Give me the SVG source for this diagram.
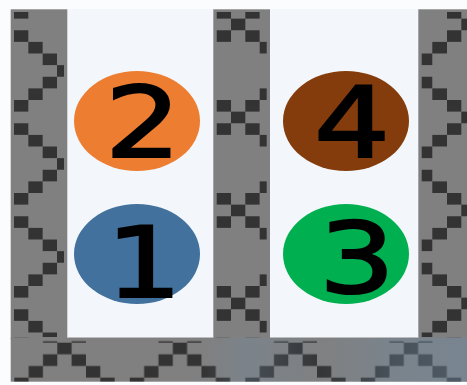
<svg xmlns="http://www.w3.org/2000/svg" width="467" height="385" viewBox="0 0 467 385">
  <style>
    .wall { fill: #808080; }
    .dk { fill: #333333; }
    .num { font-family: "DejaVu Sans", Verdana, sans-serif; font-size: 98px; fill: #000000; stroke: #000000; stroke-width: 2.2px; text-anchor: middle; }
  </style>
  <defs>
    <pattern id="wallPat" patternUnits="userSpaceOnUse" x="0" y="7" width="467" height="93">
      <rect class="dk" x="14" y="0" width="14.33" height="11.625"/>
      <rect class="dk" x="14" y="23.25" width="14.33" height="11.625"/>
      <rect class="dk" x="28.33" y="34.875" width="14.33" height="11.625"/>
      <rect class="dk" x="42.67" y="46.5" width="14.33" height="11.625"/>
      <rect class="dk" x="57" y="58.125" width="7" height="11.625"/>
      <rect class="dk" x="42.67" y="69.75" width="14.33" height="11.625"/>
      <rect class="dk" x="28.33" y="81.375" width="14.33" height="11.625"/>
      <rect class="dk" x="216.7" y="0" width="14.33" height="11.625"/>
      <rect class="dk" x="245.3" y="0" width="14.33" height="11.625"/>
      <rect class="dk" x="231" y="11.625" width="14.33" height="11.625"/>
      <rect class="dk" x="216.7" y="23.25" width="14.33" height="11.625"/>
      <rect class="dk" x="245.3" y="23.25" width="14.33" height="11.625"/>
      <rect class="dk" x="259.7" y="34.875" width="7" height="11.625"/>
      <rect class="dk" x="259.7" y="81.375" width="7" height="11.625"/>
      <rect class="dk" x="447" y="0" width="14.33" height="11.625"/>
      <rect class="dk" x="461.3" y="11.625" width="14.33" height="11.625"/>
      <rect class="dk" x="447" y="23.25" width="14.33" height="11.625"/>
      <rect class="dk" x="432.3" y="34.875" width="14.7" height="11.625"/>
      <rect class="dk" x="421.7" y="46.5" width="10.6" height="11.625"/>
      <rect class="dk" x="421.7" y="69.75" width="10.6" height="11.625"/>
      <rect class="dk" x="432.3" y="81.375" width="14.7" height="11.625"/>
    </pattern>
    <pattern id="barPat" patternUnits="userSpaceOnUse" x="14.3" y="337.7" width="115.5" height="44">
      <rect class="dk" x="28.67" y="3.6" width="14.33" height="1.4"/>
      <rect class="dk" x="57.33" y="3.6" width="14.33" height="1.4"/>
      <rect class="dk" x="43" y="5" width="14.33" height="11.6"/>
      <rect class="dk" x="28.67" y="16.6" width="14.33" height="11.7"/>
      <rect class="dk" x="57.33" y="16.6" width="14.33" height="11.7"/>
      <rect class="dk" x="14.33" y="28.3" width="14.33" height="11.6"/>
      <rect class="dk" x="71.67" y="28.3" width="14.33" height="11.6"/>
      <rect class="dk" x="0" y="39.9" width="14.33" height="4.1"/>
      <rect class="dk" x="86" y="39.9" width="14.33" height="4.1"/>
    </pattern>
    <linearGradient id="tint" x1="0" y1="0" x2="1" y2="0">
      <stop offset="0" stop-color="#6f8aa3" stop-opacity="0"/>
      <stop offset="0.42" stop-color="#6f8aa3" stop-opacity="0"/>
      <stop offset="0.52" stop-color="#6f8aa3" stop-opacity="0.3"/>
      <stop offset="0.68" stop-color="#6f8aa3" stop-opacity="0.03"/>
      <stop offset="0.84" stop-color="#6f8aa3" stop-opacity="0.35"/>
      <stop offset="1" stop-color="#6f8aa3" stop-opacity="0.45"/>
    </linearGradient>
  </defs>

  <rect x="0" y="0" width="467" height="385" fill="#fafcfe"/>
  <rect x="67" y="9" width="147" height="329" fill="#f3f7fb"/>
  <rect x="270" y="9" width="148" height="329" fill="#f3f7fb"/>

  <g id="walls">
    <rect class="wall" x="10.7" y="9.3" width="56.6" height="330"/>
    <rect class="wall" x="213.3" y="9.3" width="56.7" height="330"/>
    <rect class="wall" x="418.3" y="9.3" width="48.7" height="330"/>
    <rect x="0" y="12" width="467" height="325" fill="url(#wallPat)"/>
    <rect class="wall" x="10.7" y="337.7" width="456.3" height="44"/>
    <rect x="10.7" y="337.7" width="456.3" height="44" fill="url(#barPat)"/>
    <rect x="10.7" y="337.7" width="456.3" height="44" fill="url(#tint)"/>
    <line x1="67" y1="337.5" x2="213.3" y2="337.5" stroke="#bdbdbd" stroke-width="1"/>
    <line x1="270" y1="337.5" x2="418.3" y2="337.5" stroke="#bdbdbd" stroke-width="1"/>
  </g>

  <g id="node2">
    <ellipse cx="137" cy="121" rx="63" ry="50" fill="#ED7D31"/>
    <text class="num" transform="translate(143,157) scale(1.22,1)">2</text>
  </g>
  <g id="node1">
    <ellipse cx="137" cy="254" rx="63" ry="50" fill="#41719C"/>
    <text class="num" transform="translate(144,297) scale(1.22,1)">1</text>
  </g>
  <g id="node4">
    <ellipse cx="346" cy="121" rx="63" ry="50" fill="#843C0C"/>
    <text class="num" transform="translate(352,157) scale(1.22,1)">4</text>
  </g>
  <g id="node3">
    <ellipse cx="346" cy="254" rx="63" ry="50" fill="#00B050"/>
    <text class="num" transform="translate(357,293) scale(1.22,1)">3</text>
  </g>
</svg>
